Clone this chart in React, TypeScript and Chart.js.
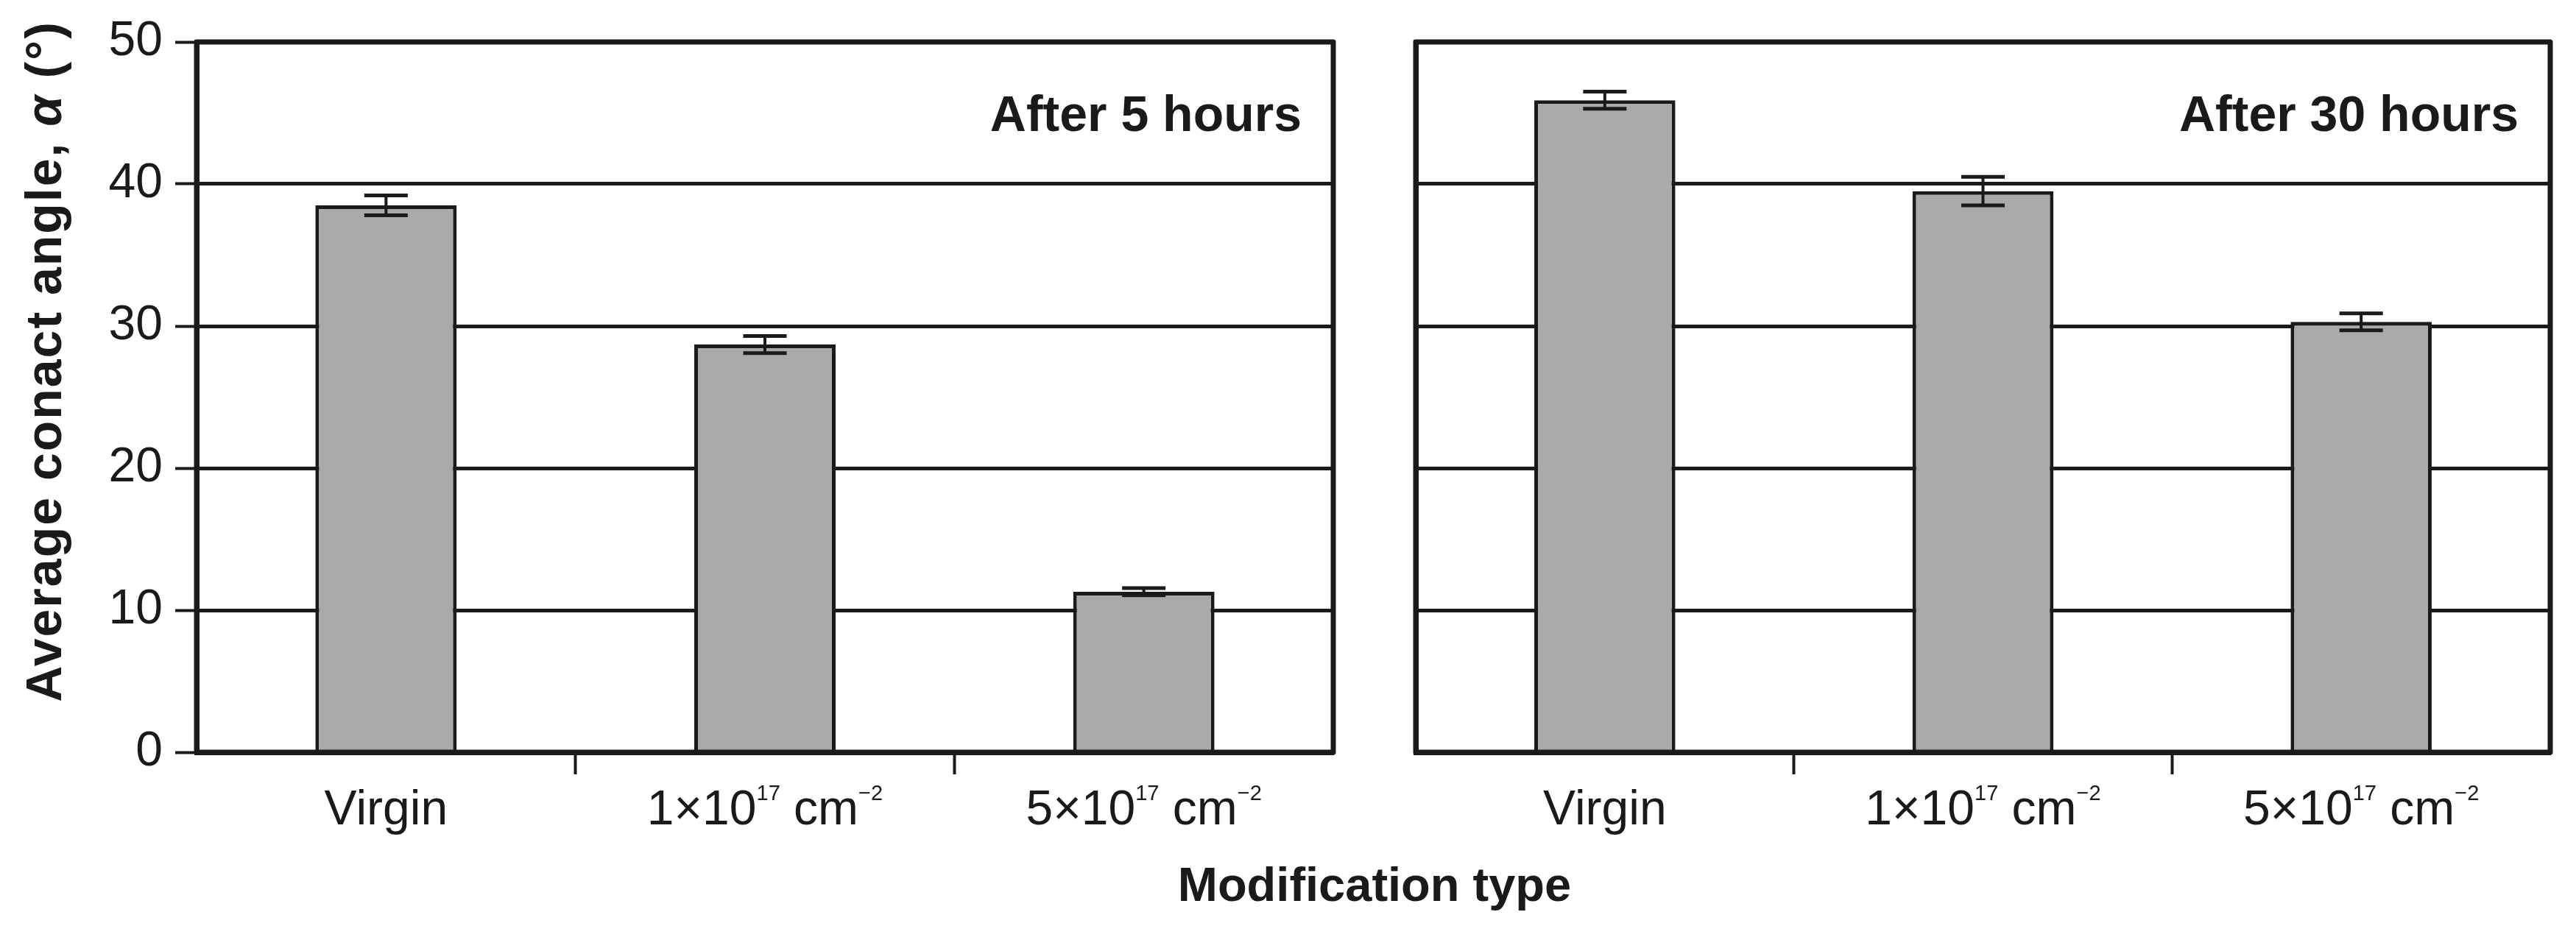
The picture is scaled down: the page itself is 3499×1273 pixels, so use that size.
import React, { useEffect, useRef } from "react";
import { Chart, registerables } from "chart.js";

Chart.register(...registerables);

// ---------- data ----------
const categories = ["Virgin", "1×10^{17} cm^{−2}", "5×10^{17} cm^{−2}"];
const panelTitles = ["After 5 hours", "After 30 hours"];
const means5h = [38.5, 28.7, 11.3];
const errors5h = [0.7, 0.6, 0.25];
const means30h = [45.9, 39.5, 30.3];
const errors30h = [0.6, 1.0, 0.6];
const yMin = 0;
const yMax = 50;
const yStep = 10;
const yTitleParts = ["Average conact angle, ", "α", " (°)"];
const xTitle = "Modification type";

// ---------- style ----------
const DARK = "#1a1a1a";
const BAR = "#aaaaaa";
const FONT = "'Liberation Sans', Arial, Helvetica, sans-serif";
const H = 1273;

function splitLabel(label: string) {
  const parts = label.split(/\^\{([^}]*)\}/);
  return parts.map((t, i) => ({ text: t, sup: i % 2 === 1 })).filter((p) => p.text.length > 0);
}

function drawLabel(ctx: CanvasRenderingContext2D, label: string, cx: number, baseline: number) {
  const segs = splitLabel(label);
  const mainFont = `66px ${FONT}`;
  const supFont = `29px ${FONT}`;
  let total = 0;
  const widths = segs.map((s) => {
    ctx.font = s.sup ? supFont : mainFont;
    const w = ctx.measureText(s.text).width;
    total += w;
    return w;
  });
  let x = cx - total / 2;
  ctx.textAlign = "left";
  ctx.textBaseline = "alphabetic";
  segs.forEach((s, i) => {
    ctx.font = s.sup ? supFont : mainFont;
    ctx.fillText(s.text, x, s.sup ? baseline - 33 : baseline);
    x += widths[i];
  });
}

type PanelProps = {
  means: number[];
  errors: number[];
  title: string;
  showY: boolean;
  left: number;
  width: number;
  padLeft: number;
  padRight: number;
  yWidth: number;
};

function Panel(p: PanelProps) {
  const ref = useRef<HTMLCanvasElement | null>(null);
  useEffect(() => {
    if (!ref.current) return;
    const panelPlugin = {
      id: "panelDecor",
      afterDatasetsDraw(chart: any) {
        const ctx: CanvasRenderingContext2D = chart.ctx;
        const area = chart.chartArea;
        const ys = chart.scales.y;
        const xs = chart.scales.x;
        const meta = chart.getDatasetMeta(0);
        ctx.save();
        // error bars
        ctx.strokeStyle = DARK;
        meta.data.forEach((bar: any, i: number) => {
          const v = p.means[i];
          const e = p.errors[i];
          const yt = ys.getPixelForValue(v + e);
          const yb = ys.getPixelForValue(v - e);
          ctx.lineWidth = 4;
          ctx.beginPath();
          ctx.moveTo(bar.x, yt);
          ctx.lineTo(bar.x, yb);
          ctx.stroke();
          ctx.lineWidth = 5;
          ctx.beginPath();
          ctx.moveTo(bar.x - 29.5, yt);
          ctx.lineTo(bar.x + 29.5, yt);
          ctx.moveTo(bar.x - 29.5, yb);
          ctx.lineTo(bar.x + 29.5, yb);
          ctx.stroke();
        });
        // frame
        ctx.lineWidth = 7;
        ctx.lineJoin = "round";
        ctx.strokeRect(area.left, area.top, area.right - area.left, area.bottom - area.top);
        // panel title
        ctx.fillStyle = DARK;
        ctx.font = `bold 68px ${FONT}`;
        ctx.textAlign = "right";
        ctx.textBaseline = "alphabetic";
        ctx.fillText(p.title, area.right - 43, 178);
        // x labels
        categories.forEach((lab, i) => {
          drawLabel(ctx, lab, xs.getPixelForTick(i), 1120);
        });
        // y title
        if (p.showY) {
          ctx.translate(83, 491);
          ctx.rotate(-Math.PI / 2);
          (ctx as any).letterSpacing = "2px";
          const fonts = [`bold 68px ${FONT}`, `italic bold 68px ${FONT}`, `bold 68px ${FONT}`];
          let total = 0;
          const ws = yTitleParts.map((t, i) => {
            ctx.font = fonts[i];
            const w = ctx.measureText(t).width;
            total += w;
            return w;
          });
          let x = -total / 2;
          ctx.textAlign = "left";
          yTitleParts.forEach((t, i) => {
            ctx.font = fonts[i];
            ctx.fillText(t, x, 0);
            x += ws[i];
          });
        }
        ctx.restore();
      },
    };
    const chart = new Chart(ref.current, {
      type: "bar",
      data: {
        labels: categories,
        datasets: [
          {
            data: p.means,
            backgroundColor: BAR,
            borderColor: DARK,
            borderWidth: 5,
            borderSkipped: "bottom",
            categoryPercentage: 0.373,
            barPercentage: 1,
          },
        ],
      },
      options: {
        responsive: false,
        animation: false,
        devicePixelRatio: 1,
        layout: { padding: { left: p.padLeft, right: p.padRight, top: 57, bottom: 0 } },
        plugins: { legend: { display: false }, tooltip: { enabled: false } },
        scales: {
          x: {
            type: "category",
            offset: true,
            grid: {
              offset: true,
              drawOnChartArea: false,
              drawTicks: true,
              tickLength: 30,
              tickWidth: 4,
              tickColor: (c: any) => (c.index === 1 || c.index === 2 ? DARK : "rgba(0,0,0,0)"),
            },
            border: { display: true, color: DARK, width: 7 },
            ticks: { display: false },
            afterFit: (s: any) => {
              s.height = H - 1022;
            },
          },
          y: {
            min: yMin,
            max: yMax,
            ticks: {
              stepSize: yStep,
              display: p.showY,
              font: { family: FONT, size: 66 },
              color: DARK,
              padding: 17,
            },
            grid: {
              color: DARK,
              lineWidth: 5,
              drawTicks: p.showY,
              tickLength: 29,
              tickWidth: 4,
              tickColor: DARK,
            },
            border: { display: true, color: DARK, width: 7 },
            afterFit: (s: any) => {
              s.width = p.yWidth;
            },
          },
        },
      },
      plugins: [panelPlugin],
    } as any);
    return () => chart.destroy();
  }, []);
  return (
    <canvas
      ref={ref}
      width={p.width}
      height={H}
      style={{ position: "absolute", left: p.left, top: 0, width: p.width, height: H, display: "block" }}
    />
  );
}

export default function App() {
  return (
    <div
      style={{
        position: "fixed",
        left: 0,
        top: 0,
        width: 3499,
        height: H,
        background: "#ffffff",
        overflow: "hidden",
      }}
    >
      <Panel
        means={means5h}
        errors={errors5h}
        title={panelTitles[0]}
        showY={true}
        left={0}
        width={1830}
        padLeft={0}
        padRight={19}
        yWidth={267}
      />
      <Panel
        means={means30h}
        errors={errors30h}
        title={panelTitles[1]}
        showY={false}
        left={1830}
        width={1669}
        padLeft={93}
        padRight={35}
        yWidth={0}
      />
      <div
        style={{
          position: "absolute",
          left: 1367,
          width: 1000,
          top: 1169,
          textAlign: "center",
          font: `bold 65px ${FONT}`,
          lineHeight: "65px",
          color: DARK,
        }}
      >
        {xTitle}
      </div>
    </div>
  );
}
